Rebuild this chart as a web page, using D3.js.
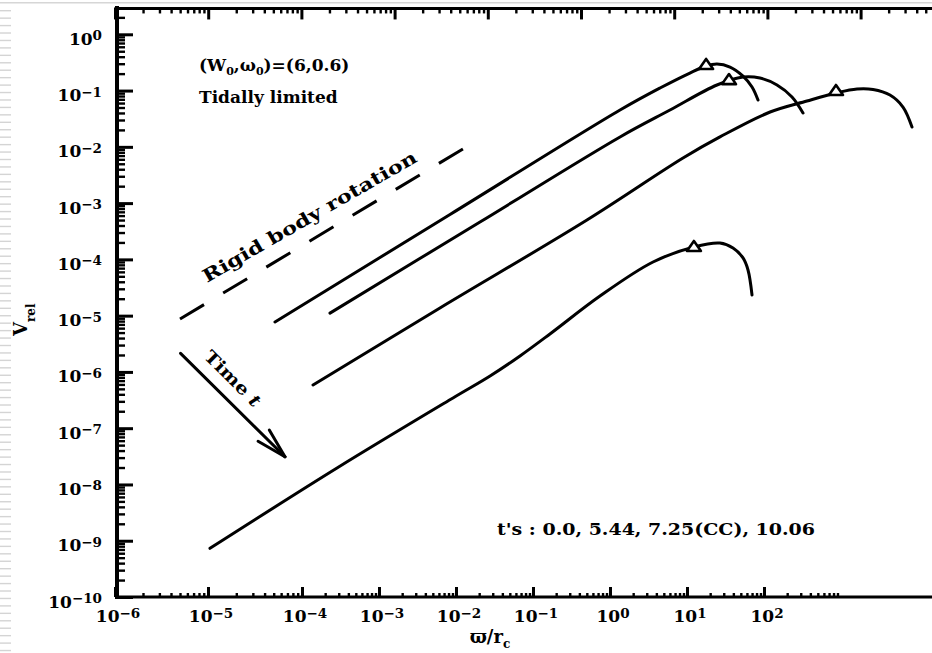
<!DOCTYPE html>
<html>
<head>
<meta charset="utf-8">
<script src="https://cdn.jsdelivr.net/npm/d3@7"></script>
<style>
  html, body { margin: 0; padding: 0; background: #fff; }
  svg { display: block; }
  text { font-family: "DejaVu Serif", serif; font-weight: bold; fill: #000; }
</style>
</head>
<body>
<svg id="chart" width="932" height="653"></svg>
<script>
// V_rel against cylindrical radius for four epochs of a rotating, tidally limited model

// curve for each epoch: [radius, V_rel]
const curveT0 = [[5.16e-5, 7.71e-6], [8.36e-3, 6.28e-4], [1.35, 0.0451], [4.46, 0.111],
  [10.9, 0.205], [17.7, 0.273], [24.5, 0.297], [36.2, 0.262], [53.4, 0.181], [69.9, 0.116], [83.6, 0.068]];
const curveT1 = [[2.31e-4, 1.11e-5], [0.0205, 4.62e-4], [1.35, 0.0150], [6.01, 0.0451],
  [24.5, 0.1256], [53.4, 0.174], [88.7, 0.167], [147.5, 0.1256], [231, 0.0769], [321, 0.0399]];
const curveT2 = [[1.39e-4, 5.86e-7], [6.19e-3, 1.37e-5], [0.502, 5.01e-4], [8.87, 6.33e-3],
  [26.8, 0.0150], [120, 0.0416], [361, 0.0653], [861, 0.0905], [1614, 0.1066], [2606, 0.1045],
  [4325, 0.0834], [6383, 0.0510], [8356, 0.0225]];
const curveT3 = [[1.05e-5, 7.33e-10], [2.85e-4, 1.96e-8], [9.14e-3, 3.44e-7], [0.0277, 8.45e-7],
  [0.0678, 1.92e-6], [0.166, 4.72e-6], [0.741, 2.23e-5], [3.62, 8.98e-5], [12.3, 1.66e-4],
  [26.8, 1.95e-4], [39.6, 1.59e-4], [53.4, 1.06e-4], [62.0, 6.47e-5], [69.9, 2.33e-5]];
const curves = [curveT0, curveT1, curveT2, curveT3];

// triangle on each curve
const peakMarks = [[17.7, 0.297], [35.1, 0.160], [861, 0.1023], [12.3, 1.73e-4]];

// rigid body rotation reference
const rigidLine = [[5.0e-6, 8.71e-6], [0.0123, 9.16e-3]];
// time arrow, tail to tip
const timeArrow = [[5.07e-6, 2.14e-6], [6.59e-5, 3.11e-8]];

const epochs = ["0.0", "5.44", "7.25(CC)", "10.06"];
const xTickExp = [-6, -5, -4, -3, -2, -1, 0, 1, 2];
const yTickExp = [-10, -9, -8, -7, -6, -5, -4, -3, -2, -1, 0];

const W = 932, H = 653;
const svg = d3.select("#chart");

// bottom (labelled) axis: decades are not evenly spaced across the frame
const x = d3.scaleLog().domain([1e-6, 1e-5, 1e-4, 1e3]).range([115, 208, 302, 841]);
// top axis ticks run at an even spacing
const xTop = d3.scaleLog().domain([1e-6, 1e3]).range([115, 953.8]);
const y = d3.scaleLog().domain([1e-10, 1]).range([597, 34.3]);
const yTopVal = 3;          // frame top
const xLeft = x(1e-6), yBottom = y(1e-10), yTop = y(yTopVal);

// ruled margin along the left edge and top hairline
const margin = svg.append("g");
margin.append("rect").attr("x", 0).attr("y", 2).attr("width", W).attr("height", 1.5).attr("fill", "#d6d6d6");
margin.selectAll("rect.rule").data(d3.range(0, 87)).join("rect")
  .attr("class", "rule").attr("x", 0).attr("y", i => 10 + i * 7.44)
  .attr("width", 11).attr("height", 1.4).attr("fill", "#d4d4d4");

// minor tick values
const minorVals = (lo, hi) => {
  const v = [];
  for (let e = lo; e <= hi; e++) for (let k = 2; k <= 9; k++) v.push(k * 10 ** e);
  return v;
};
const xMajorVals = xTickExp.map(e => 10 ** e);
const xMinorVals = minorVals(-6, 2);
const xTopMajor = d3.range(-6, 4).map(e => 10 ** e).filter(v => xTop(v) <= W);
const xTopMinor = minorVals(-6, 3).filter(v => xTop(v) <= W);
const yMajorVals = yTickExp.map(e => 10 ** e);
const yMinorVals = minorVals(-10, 0).filter(v => v <= 2.5);

function tickAxis(axis, tx, ty, width) {
  const g = svg.append("g").attr("transform", `translate(${tx},${ty})`).call(axis);
  g.select(".domain").remove();
  g.selectAll(".tick line").attr("stroke", "#000").attr("stroke-width", width);
  g.selectAll(".tick text").remove();
  return g;
}
// left
tickAxis(d3.axisRight(y).tickValues(yMajorVals).tickSize(18).tickFormat(""), xLeft, 0, 3);
tickAxis(d3.axisRight(y).tickValues(yMinorVals).tickSize(10).tickFormat(""), xLeft, 0, 2.4);
// bottom
tickAxis(d3.axisTop(x).tickValues(xMajorVals).tickSize(10).tickFormat(""), 0, yBottom, 3);
tickAxis(d3.axisTop(x).tickValues(xMinorVals).tickSize(4).tickFormat(""), 0, yBottom, 2.4);
// top
tickAxis(d3.axisBottom(xTop).tickValues(xTopMajor).tickSize(12).tickFormat(""), 0, yTop, 3);
tickAxis(d3.axisBottom(xTop).tickValues(xTopMinor).tickSize(6).tickFormat(""), 0, yTop, 2.4);

// frame
const frame = svg.append("g").attr("stroke", "#000").attr("fill", "none");
frame.append("line").attr("x1", xLeft + 2).attr("x2", xLeft + 2)
  .attr("y1", yTop - 1.5).attr("y2", yBottom + 1.5).attr("stroke-width", 4);
frame.append("line").attr("x1", xLeft).attr("x2", W).attr("y1", yTop + 1).attr("y2", yTop + 1).attr("stroke-width", 3);
frame.append("line").attr("x1", xLeft).attr("x2", W).attr("y1", yBottom).attr("y2", yBottom).attr("stroke-width", 3);

// power-of-ten tick labels
const expText = e => String(e).replace("-", "\u2212");
function powerLabel(sel) {
  sel.append("tspan").text("10");
  sel.append("tspan").attr("dy", -4.5).style("font-size", "13.5px").text(d => expText(d));
}
svg.append("g").selectAll("text").data(yTickExp).join("text")
  .attr("x", 102).attr("y", e => y(10 ** e) + 10.5)
  .attr("text-anchor", "end").style("font-size", "17px")
  .call(powerLabel);
svg.append("g").selectAll("text").data(xTickExp).join("text")
  .attr("x", e => x(10 ** e) + 3).attr("y", 622)
  .attr("text-anchor", "middle").style("font-size", "17px")
  .call(powerLabel);

// axis titles
const xTitle = svg.append("text").attr("x", 490).attr("y", 643)
  .attr("text-anchor", "middle").style("font-size", "18px");
xTitle.append("tspan").text("\u03D6/r");
xTitle.append("tspan").attr("dy", 5).style("font-size", "12px").text("c");

const yTitle = svg.append("text").attr("transform", "translate(27,336) rotate(-90)")
  .style("font-size", "18px");
yTitle.append("tspan").text("V");
yTitle.append("tspan").attr("dy", 8).style("font-size", "12px").text("rel");

// curves
const line = d3.line().x(d => x(d[0])).y(d => y(d[1])).curve(d3.curveCatmullRom.alpha(0.5));
svg.append("g").selectAll("path").data(curves).join("path")
  .attr("d", line).attr("fill", "none").attr("stroke", "#000")
  .attr("stroke-width", 3).attr("stroke-linejoin", "round").attr("stroke-linecap", "round");

// open triangles
const flatTriangle = {
  draw(ctx, size) {
    const w = Math.sqrt(size);
    ctx.moveTo(0, -0.36 * w);
    ctx.lineTo(0.5 * w, 0.36 * w);
    ctx.lineTo(-0.5 * w, 0.36 * w);
    ctx.closePath();
  }
};
svg.append("g").selectAll("path").data(peakMarks).join("path")
  .attr("transform", d => `translate(${x(d[0])},${y(d[1])})`)
  .attr("d", d3.symbol(flatTriangle, 196))
  .attr("fill", "#fff").attr("stroke", "#000").attr("stroke-width", 2.6)
  .attr("stroke-linejoin", "round");

// rigid body rotation reference: seven dashes ending on a full dash
const rigidPath = svg.append("path").datum(rigidLine)
  .attr("d", d3.line().x(d => x(d[0])).y(d => y(d[1])))
  .attr("fill", "none").attr("stroke", "#000").attr("stroke-width", 3);
const rigidLen = rigidPath.node().getTotalLength();
const dashLen = 28;
rigidPath.attr("stroke-dasharray", `${dashLen},${(rigidLen - 7 * dashLen) / 6}`);
svg.append("text")
  .attr("transform", `translate(${x(9.75e-6)},${y(3.8e-5)}) rotate(-30)`)
  .attr("textLength", 244).attr("lengthAdjust", "spacingAndGlyphs")
  .style("font-size", "18px").text("Rigid body rotation");

// time arrow
const [tail, tip] = timeArrow.map(d => [x(d[0]), y(d[1])]);
const ang = Math.atan2(tip[1] - tail[1], tip[0] - tail[0]);
const arrow = svg.append("g").attr("stroke", "#000").attr("stroke-width", 3)
  .attr("stroke-linecap", "round").attr("fill", "none");
arrow.append("line").attr("x1", tail[0]).attr("y1", tail[1]).attr("x2", tip[0]).attr("y2", tip[1]);
[-0.26, 0.26].forEach(a => {
  arrow.append("line").attr("x1", tip[0]).attr("y1", tip[1])
    .attr("x2", tip[0] - 31 * Math.cos(ang + a)).attr("y2", tip[1] - 31 * Math.sin(ang + a));
});
const timeText = svg.append("text")
  .attr("transform", `translate(${x(8.83e-6)},${y(1.81e-6)}) rotate(${ang * 180 / Math.PI})`)
  .attr("textLength", 72).attr("lengthAdjust", "spacingAndGlyphs")
  .style("font-size", "17px");
timeText.append("tspan").text("Time ");
timeText.append("tspan").style("font-style", "italic").text("t");

// model parameters
const par = svg.append("text").attr("x", 199).attr("y", 71).style("font-size", "17px");
par.append("tspan").text("(W");
par.append("tspan").attr("dy", 4).style("font-size", "11px").text("0");
par.append("tspan").attr("dy", -4).text(",\u03C9");
par.append("tspan").attr("dy", 4).style("font-size", "11px").text("0");
par.append("tspan").attr("dy", -4).text(")=(6,0.6)");
svg.append("text").attr("x", 199).attr("y", 103)
  .style("font-size", "17px").text("Tidally limited");

// epochs
svg.append("text").attr("x", 497).attr("y", 535)
  .attr("textLength", 318).attr("lengthAdjust", "spacingAndGlyphs")
  .style("font-size", "17px").text("t's : " + epochs.join(", "));
</script>
</body>
</html>
